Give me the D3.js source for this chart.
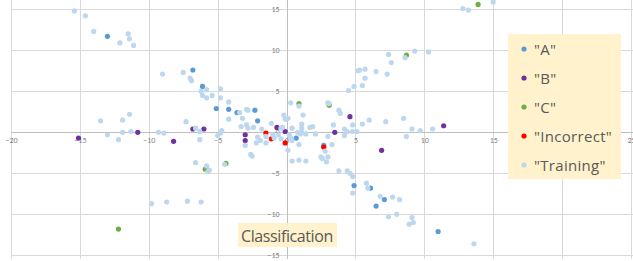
<!DOCTYPE html>
<html>
<head>
<meta charset="utf-8">
<script src="https://cdnjs.cloudflare.com/ajax/libs/d3/7.8.5/d3.min.js"></script>
<style>
  body { margin: 0; background: #fff; }
  svg { display: block; font-family: Carlito, Lato, "Open Sans", sans-serif; }
</style>
</head>
<body>
<div id="chart"></div>
<script>
// classification scatter

var title = 'Classification';
var xTicks = [-20, -15, -10, -5, 0, 5, 10, 15, 20, 25];
var yTicks = [-15, -10, -5, 0, 5, 10, 15];
var seriesNames = ['"A"', '"B"', '"C"', '"Incorrect"', '"Training"'];

var pointsA = [
  [-13.0, 11.7], [-6.8, 7.6], [-6.1, 5.6], [-5.1, 2.9], [-4.2, 2.8], [-3.6, 2.4],
  [-2.3, 2.7], [-2.1, 1.4], [0.7, -0.7], [2.7, -1.6], [4.9, -6.5], [6.1, -6.8],
  [7.1, -8.2], [6.5, -9.0], [11.0, -12.1]
];

var pointsB = [
  [-15.1, -0.7], [-10.8, 0.0], [-8.2, -1.1], [-6.8, 0.4], [-6.0, 0.4], [-3.0, -0.3],
  [-3.0, -1.0], [-0.7, 0.6], [-0.1, 0.1], [3.5, 0.0], [4.6, 1.9], [6.9, -2.2], [11.4, 0.8]
];

var pointsC = [
  [-12.2, -11.8], [-5.9, -4.5], [-4.4, -3.8], [0.9, 3.5], [3.1, 3.3], [8.7, 9.4], [13.9, 15.6]
];

var pointsIncorrect = [
  [-1.5, -0.1], [-1.1, -0.8], [-0.1, -1.3], [2.7, -1.8]
];

var pointsTraining = [
  [-15.4, 14.8], [-14.6, 14.2], [-14.0, 12.3], [-11.5, 12.0], [-11.4, 11.4], [-12.1, 10.9],
  [-11.1, 10.6], [-9.0, 7.1], [-7.5, 7.3], [-7.0, 6.6], [-6.9, 6.3], [-6.2, 5.0],
  [-5.8, 5.2], [-6.1, 4.5], [-5.8, 4.2], [-5.4, 4.5], [-4.8, 5.3], [-4.8, 4.2],
  [-4.2, 3.7], [-3.4, 2.4], [-3.2, 1.7], [-2.9, 2.8], [-2.8, 2.7], [-4.2, 1.6],
  [-2.9, 0.9], [-2.4, 0.6], [-2.8, 0.5], [-1.1, 1.1], [-0.3, 0.6], [-0.2, 2.1],
  [-0.1, 1.6], [0.1, 1.7], [0.3, 3.6], [0.9, 3.2], [1.2, 2.1], [0.4, 0.5],
  [1.1, 0.5], [1.7, 0.6], [1.9, 0.7], [-13.5, 1.4], [-11.9, 1.5], [-11.4, 2.2],
  [-7.3, 1.3], [-6.6, 0.5], [-13.0, -0.3], [-12.2, -0.9], [-11.9, 0.0], [-11.3, 0.1],
  [-9.3, 0.0], [-8.9, -0.1], [-6.3, -0.9], [-6.3, 0.1], [-4.8, -0.1], [-4.7, 0.2],
  [-5.0, -0.4], [-6.6, -3.7], [-5.8, -4.1], [-5.6, -4.6], [-5.7, -4.8], [-4.5, -3.9],
  [-9.8, -8.7], [-8.7, -8.5], [-7.2, -8.4], [-6.2, -8.5], [-3.0, -1.6], [-2.6, -2.7],
  [-2.5, -2.9], [-2.1, -0.6], [-2.2, -1.3], [-1.9, -1.0], [-1.5, -1.3], [-1.5, -0.5],
  [-1.0, -0.3], [-0.6, -0.3], [-0.4, 0.5], [-0.4, -0.8], [0.1, -2.2], [0.4, -3.5],
  [0.9, -3.4], [1.4, -3.5], [0.4, -1.0], [0.9, -1.5], [1.0, -0.2], [1.1, 0.0],
  [1.4, -0.2], [2.1, -0.2], [1.1, 1.0], [-1.8, 0.4], [-0.9, -0.7], [0.3, -0.7],
  [0.2, -0.3], [0.8, 0.0], [-3.3, 0.7], [3.0, 3.6], [3.1, 3.5], [3.8, 2.7],
  [3.9, 2.3], [4.5, 5.1], [3.4, 0.9], [3.0, -0.5], [4.2, 0.4], [4.4, 0.1],
  [4.2, -0.4], [4.8, 0.9], [4.8, 0.1], [5.1, 0.1], [5.5, 1.0], [6.0, 1.5],
  [7.2, 1.3], [8.5, 1.7], [9.1, 0.4], [9.7, 0.2], [8.7, -0.5], [10.6, 0.4],
  [3.3, -1.5], [2.8, -2.3], [3.0, -3.0], [2.6, -3.2], [2.9, -3.6], [2.5, -3.0],
  [3.8, -4.7], [4.4, -4.7], [4.6, -5.0], [4.8, -5.4], [4.8, -7.4], [5.8, -6.2],
  [5.9, -6.8], [6.8, -7.8], [7.7, -7.9], [8.2, -8.2], [7.4, -10.3], [8.0, -10.0],
  [9.1, -10.4], [9.2, -11.0], [8.9, -11.2], [13.6, -13.6], [12.8, 15.1], [13.2, 14.9],
  [15.0, 15.9], [7.4, 9.5], [8.6, 9.1], [9.3, 9.9], [10.3, 9.8], [7.6, 8.5],
  [5.2, 7.5], [5.3, 7.6], [5.7, 7.7], [6.5, 7.4], [7.3, 7.1], [5.7, 6.6],
  [4.9, 5.6], [5.5, 5.7]
];

var allSeries = [pointsA, pointsB, pointsC, pointsIncorrect, pointsTraining];
var colors = ['#5b9bd5', '#7030a0', '#70ad47', '#ff0000', '#bdd7ee'];

var width = 633,
  height = 261;

var x = d3.scaleLinear().domain([-20, 25]).range([11, 631]);
var y = d3.scaleLinear().domain([-15, 15]).range([255.3, 9.3]);

var svg = d3.select('#chart')
  .append('svg')
  .attr('width', width)
  .attr('height', height);

// gridlines
svg.append('g').selectAll('line')
  .data(xTicks)
  .enter().append('line')
  .attr('x1', function(d) { return Math.round(x(d)) + 0.5; })
  .attr('x2', function(d) { return Math.round(x(d)) + 0.5; })
  .attr('y1', 0)
  .attr('y2', 259)
  .attr('stroke', '#d9d9d9');

svg.append('g').selectAll('line')
  .data(yTicks)
  .enter().append('line')
  .attr('x1', x(-20))
  .attr('x2', width)
  .attr('y1', function(d) { return Math.round(y(d)) + 0.5; })
  .attr('y2', function(d) { return Math.round(y(d)) + 0.5; })
  .attr('stroke', '#d9d9d9');

// axis lines through zero
svg.append('line')
  .attr('x1', x(-20)).attr('x2', width)
  .attr('y1', Math.round(y(0)) + 0.5).attr('y2', Math.round(y(0)) + 0.5)
  .attr('stroke', '#bfbfbf');

svg.append('line')
  .attr('x1', Math.round(x(0)) + 0.5).attr('x2', Math.round(x(0)) + 0.5)
  .attr('y1', 0).attr('y2', 259)
  .attr('stroke', '#bfbfbf');

var xAxis = svg.append('g')
  .attr('transform', 'translate(0,' + y(0) + ')')
  .call(d3.axisBottom(x).tickValues(xTicks).tickSize(0).tickPadding(5));

var yAxis = svg.append('g')
  .attr('transform', 'translate(' + x(0) + ',0)')
  .call(d3.axisLeft(y).tickValues(yTicks).tickSize(0).tickPadding(7));

[xAxis, yAxis].forEach(function(axis) {
  axis.select('.domain').remove();
  axis.selectAll('text')
    .attr('fill', '#7f7f7f')
    .style('font-size', '8px')
    .style('font-family', 'Carlito, Lato, sans-serif');
});

// points, training drawn last so it sits on top
allSeries.forEach(function(points, i) {
  svg.append('g').selectAll('circle')
    .data(points)
    .enter().append('circle')
    .attr('cx', function(d) { return x(d[0]); })
    .attr('cy', function(d) { return y(d[1]); })
    .attr('r', 2.6)
    .attr('fill', colors[i]);
});

// title box
var titleG = svg.append('g').attr('transform', 'translate(238,223)');
titleG.append('rect')
  .attr('width', 99)
  .attr('height', 24)
  .attr('fill', '#fff2cc');
titleG.append('text')
  .attr('x', 3)
  .attr('y', 18.5)
  .attr('fill', '#595959')
  .style('font-family', '"Open Sans", sans-serif')
  .style('font-size', '16px')
  .style('letter-spacing', '-0.4px')
  .text(title);

// legend
var legend = svg.append('g').attr('transform', 'translate(508,34)');
legend.append('rect')
  .attr('width', 113)
  .attr('height', 145)
  .attr('fill', '#fff2cc');

var entry = legend.selectAll('.entry')
  .data(seriesNames)
  .enter().append('g')
  .attr('class', 'entry')
  .attr('transform', function(d, i) { return 'translate(0,' + (15 + i * 29) + ')'; });

entry.append('circle')
  .attr('cx', 16)
  .attr('cy', 0)
  .attr('r', 2.6)
  .attr('fill', function(d, i) { return colors[i]; });

entry.append('text')
  .attr('x', 26)
  .attr('y', 5.5)
  .attr('fill', '#595959')
  .style('font-family', '"Open Sans", sans-serif')
  .style('font-size', '15px')
  .style('letter-spacing', '0.3px')
  .text(function(d) { return d; });
</script>
</body>
</html>
